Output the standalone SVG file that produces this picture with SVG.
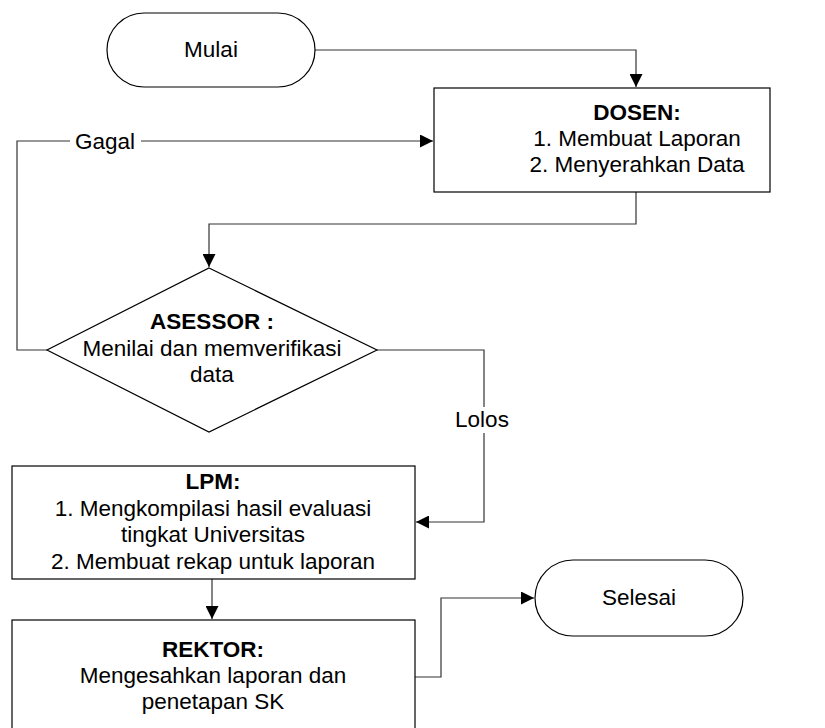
<svg xmlns="http://www.w3.org/2000/svg" width="825" height="728" viewBox="0 0 825 728">
<defs>
<marker id="arr" viewBox="0 0 10 10" refX="10" refY="5" markerWidth="13" markerHeight="13" markerUnits="userSpaceOnUse" orient="auto">
<path d="M0,0 L10,5 L0,10 Z" fill="#000"/>
</marker>
<style>
.shape{fill:#fff;stroke:#000;stroke-width:1.2}
.con{fill:none;stroke:#333;stroke-width:1.2}
text{font-family:"Liberation Sans",Arial,sans-serif;font-size:22.5px;fill:#000;text-anchor:middle}
.b{font-weight:bold}
</style>
</defs>
<rect width="825" height="728" fill="#fff"/>
<g id="connectors">
<path class="con" d="M315,50 H636 V87" marker-end="url(#arr)"/>
<path class="con" d="M47,350 H17 V141 H433" marker-end="url(#arr)"/>
<path class="con" d="M636,192 V224 H209 V267" marker-end="url(#arr)"/>
<path class="con" d="M377,350 H484 V522 H416" marker-end="url(#arr)"/>
<path class="con" d="M212,579 V619" marker-end="url(#arr)"/>
<path class="con" d="M415,677 H441 V598 H534" marker-end="url(#arr)"/>
<rect x="70" y="131" width="71" height="22" fill="#fff"/>
<text x="105" y="149">Gagal</text>
<rect x="450" y="407" width="66" height="26" fill="#fff"/>
<text x="482" y="427">Lolos</text>
</g>
<g id="mulai">
<rect class="shape" x="107" y="13" width="208" height="74" rx="37" ry="37"/>
<text x="211" y="57">Mulai</text>
</g>
<g id="dosen">
<rect class="shape" x="434" y="88" width="336" height="104"/>
<text class="b" x="637" y="120">DOSEN:</text>
<text x="637" y="146">1. Membuat Laporan</text>
<text x="637" y="172">2. Menyerahkan Data</text>
</g>
<g id="asessor">
<polygon class="shape" points="209,268 377,350 209,432 47,350"/>
<text class="b" x="212" y="329">ASESSOR :</text>
<text x="212" y="356">Menilai dan memverifikasi</text>
<text x="212" y="382">data</text>
</g>
<g id="lpm">
<rect class="shape" x="12" y="466" width="403" height="113"/>
<text class="b" x="213" y="489">LPM:</text>
<text x="213" y="516">1. Mengkompilasi hasil evaluasi</text>
<text x="213" y="542">tingkat Universitas</text>
<text x="213" y="569">2. Membuat rekap untuk laporan</text>
</g>
<g id="rektor">
<rect class="shape" x="12" y="620" width="403" height="120"/>
<text class="b" x="213" y="657">REKTOR:</text>
<text x="213" y="683">Mengesahkan laporan dan</text>
<text x="213" y="709">penetapan SK</text>
</g>
<g id="selesai">
<rect class="shape" x="535" y="560" width="208" height="76" rx="38" ry="38"/>
<text x="639" y="605">Selesai</text>
</g>
</svg>
